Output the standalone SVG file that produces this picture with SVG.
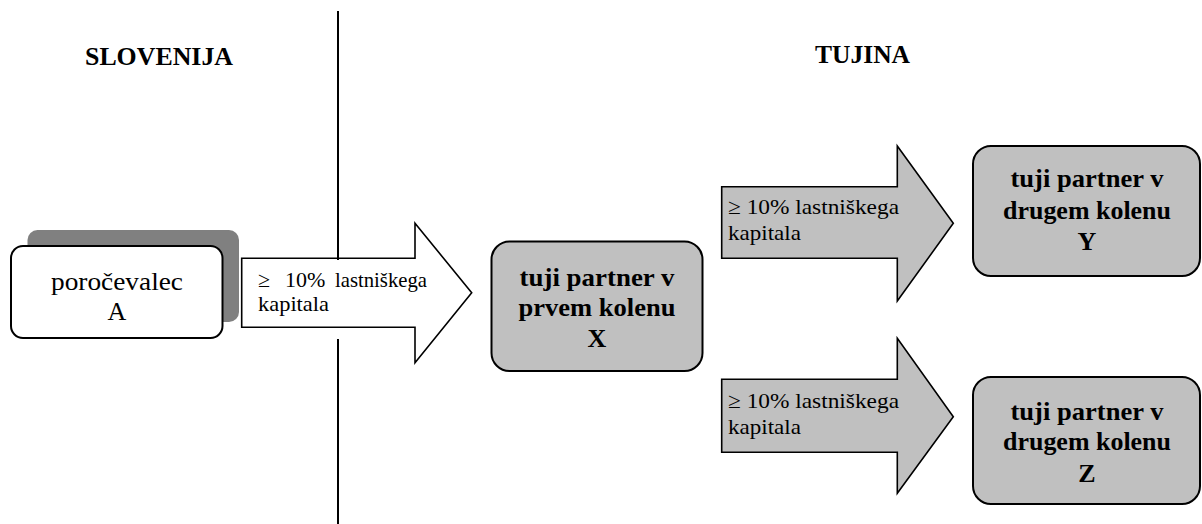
<svg xmlns="http://www.w3.org/2000/svg" width="1202" height="524" viewBox="0 0 1202 524">
<style>
text { font-family: "Liberation Serif", "Times New Roman", Times, Tinos, "Noto Serif", "DejaVu Serif", FreeSerif, serif; fill: #000; }
.hdr { font-size: 26px; font-weight: bold; }
.bold { font-size: 26px; font-weight: bold; text-anchor: middle; }
.reg { font-size: 26px; text-anchor: middle; }
.lbl { font-size: 22px; }
.gbox { fill: #c0c0c0; stroke: #000; stroke-width: 2; }
.arrow { stroke: #000; stroke-width: 1.6; stroke-linejoin: miter; }
</style>
<rect width="1202" height="524" fill="#fff"/>
<g id="headers">
<text class="hdr" x="85" y="65" textLength="148" lengthAdjust="spacingAndGlyphs">SLOVENIJA</text>
<text class="hdr" x="815" y="62.5" textLength="95" lengthAdjust="spacingAndGlyphs">TUJINA</text>
</g>
<g id="node-A">
<rect x="27.5" y="230" width="211.5" height="92" rx="10" fill="#808080"/>
<rect x="11" y="246" width="211.5" height="92" rx="12" fill="#fff" stroke="#000" stroke-width="2"/>
<text class="reg" x="117" y="290" textLength="132" lengthAdjust="spacingAndGlyphs">poročevalec</text>
<text class="reg" x="117" y="320">A</text>
</g>
<g id="node-X">
<rect class="gbox" x="491.5" y="241.5" width="211" height="129.5" rx="18"/>
<text class="bold" x="597" y="286" textLength="155" lengthAdjust="spacingAndGlyphs">tuji partner v</text>
<text class="bold" x="597" y="316" textLength="157" lengthAdjust="spacingAndGlyphs">prvem kolenu</text>
<text class="bold" x="597" y="346.5">X</text>
</g>
<g id="node-Y">
<rect class="gbox" x="973" y="146" width="227" height="130" rx="18"/>
<text class="bold" x="1087" y="187" textLength="153" lengthAdjust="spacingAndGlyphs">tuji partner v</text>
<text class="bold" x="1087" y="218.5" textLength="168" lengthAdjust="spacingAndGlyphs">drugem kolenu</text>
<text class="bold" x="1087" y="250">Y</text>
</g>
<g id="node-Z">
<rect class="gbox" x="973" y="377" width="227" height="127" rx="18"/>
<text class="bold" x="1087" y="420" textLength="153" lengthAdjust="spacingAndGlyphs">tuji partner v</text>
<text class="bold" x="1087" y="450" textLength="168" lengthAdjust="spacingAndGlyphs">drugem kolenu</text>
<text class="bold" x="1087" y="481.5">Z</text>
</g>
<g id="connectors">
<g id="arrow-A-X">
<polygon class="arrow" fill="#fff" points="241.7,258.3 415,258.3 415,223.3 471.7,292.7 415,362.7 415,327.3 241.7,327.3"/>
<text class="lbl" y="287" font-size="21"><tspan x="258">≥</tspan><tspan x="285">10%</tspan><tspan x="335" textLength="92" lengthAdjust="spacingAndGlyphs">lastniškega</tspan></text>
<text class="lbl" x="258" y="311" font-size="21" textLength="71" lengthAdjust="spacingAndGlyphs">kapitala</text>
</g>
<g id="arrow-X-Y">
<polygon class="arrow" fill="#c0c0c0" points="721.7,186.7 897.3,186.7 897.3,146 953.3,223.3 897.3,301 897.3,258.3 721.7,258.3"/>
<text class="lbl" x="728" y="214" textLength="171" lengthAdjust="spacingAndGlyphs">≥ 10% lastniškega</text>
<text class="lbl" x="728" y="240" textLength="73" lengthAdjust="spacingAndGlyphs">kapitala</text>
</g>
<g id="arrow-X-Z">
<polygon class="arrow" fill="#c0c0c0" points="721.7,379.3 897.3,379.3 897.3,338.3 953.3,416.7 897.3,493.3 897.3,452.3 721.7,452.3"/>
<text class="lbl" x="728" y="408" textLength="171" lengthAdjust="spacingAndGlyphs">≥ 10% lastniškega</text>
<text class="lbl" x="728" y="433.5" textLength="73" lengthAdjust="spacingAndGlyphs">kapitala</text>
</g>
</g>
<g id="border-line">
<line x1="338" y1="11" x2="338" y2="260" stroke="#000" stroke-width="2"/>
<line x1="338" y1="339" x2="338" y2="524" stroke="#000" stroke-width="2"/>
</g>
</svg>
